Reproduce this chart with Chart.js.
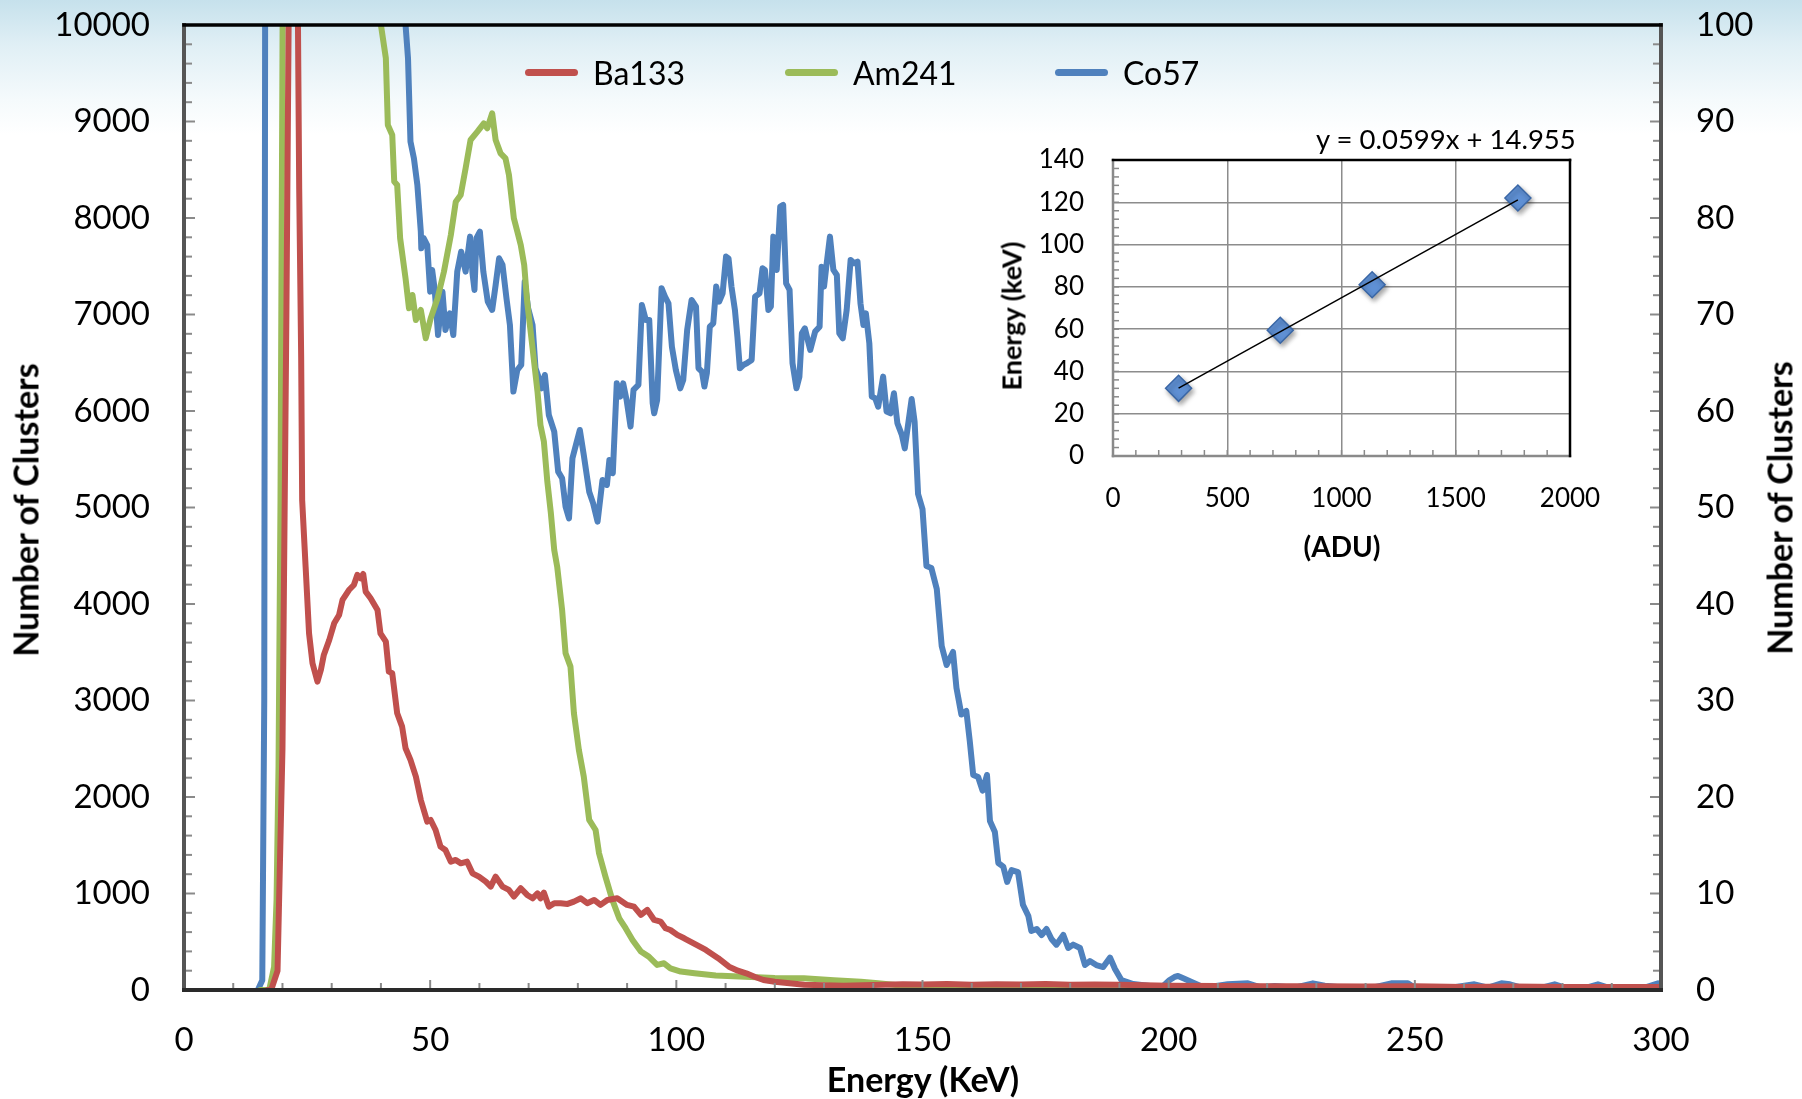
<!DOCTYPE html>
<html>
<head>
<meta charset="utf-8">
<script src="https://cdn.jsdelivr.net/npm/chart.js@4.4.0/dist/chart.umd.min.js"></script>
<style>
  html, body { margin: 0; padding: 0; }
  body {
    width: 1802px; height: 1099px; overflow: hidden; position: relative;
    background: linear-gradient(to bottom, #c6e1ec 0px, #e0eff5 45px, #f5fafc 100px, #ffffff 135px);
    font-family: Lato, sans-serif; color: #000;
  }
  canvas { position: absolute; }
  #mainChart { left: 0; top: 0; }
  #insetChart { left: 990px; top: 120px; }
  .legendItem { position: absolute; top: 54px; height: 36px; display: flex; align-items: center; font: 32px Lato; }
  .legendItem .swatch { display: inline-block; width: 53px; height: 7px; border-radius: 4px; margin-right: 15px; }
  .axisTitle { position: absolute; white-space: nowrap; font-weight: bold; transform: translate(-50%, -50%); }
  .rot { transform: translate(-50%, -50%) rotate(-90deg); }
  #equation { position: absolute; left: 1316px; top: 122px; font: 27.5px Lato; white-space: nowrap; }
</style>
</head>
<body>
<canvas id="mainChart" width="1802" height="1099"></canvas>
<canvas id="insetChart" width="620" height="450"></canvas>

<div class="legendItem" style="left:525px"><span class="swatch" style="background:#c0504d"></span>Ba133</div>
<div class="legendItem" style="left:785px"><span class="swatch" style="background:#9bbb59"></span>Am241</div>
<div class="legendItem" style="left:1055px"><span class="swatch" style="background:#4f81bd"></span>Co57</div>

<div class="axisTitle rot" style="left:25px; top:510px; font-size:34px">Number of Clusters</div>
<div class="axisTitle rot" style="left:1779px; top:508px; font-size:34px">Number of Clusters</div>
<div class="axisTitle" style="left:923px; top:1078px; font-size:34px">Energy (KeV)</div>
<div class="axisTitle rot" style="left:1011px; top:316px; font-size:27px">Energy (keV)</div>
<div class="axisTitle" style="left:1342px; top:546px; font-size:28px">(ADU)</div>
<div id="equation">y = 0.0599x + 14.955</div>

<script>
// spectra (energy in keV, clusters per bin)
let ba133Kev = [17.0, 17.7, 19.0, 20.0, 20.8, 21.4, 22.2, 23.0, 23.4, 23.8, 24.0, 24.7, 25.4, 26.1, 27.1, 27.8, 28.4, 29.5, 30.5, 31.5,
  32.2, 33.5, 34.5, 35.2, 35.9, 36.4, 36.9, 37.9, 39.3, 39.9, 41.0, 41.6, 42.3, 43.3, 44.3, 45.0, 46.0, 47.1, 48.1, 49.4,
  50.1, 51.1, 52.1, 53.1, 54.2, 55.2, 56.2, 57.5, 58.6, 59.9, 61.3, 62.3, 63.3, 64.7, 66.0, 67.0, 68.4, 69.7, 70.8, 71.8,
  72.4, 73.1, 74.1, 75.2, 76.5, 77.9, 79.2, 80.6, 81.9, 83.3, 84.6, 86.0, 88.0, 90.0, 91.4, 92.8, 94.1, 95.5, 96.8, 97.8,
  98.8, 100.2, 101.6, 104, 106, 108.5, 110.7, 112.5, 114.2, 116, 117.7, 120, 123, 126, 130, 134, 138, 142, 146, 150,
  155, 160, 165, 170, 175, 180, 185, 190, 195, 200, 210, 220, 230, 240, 250, 260, 270, 280, 290, 300];
let ba133Counts = [0, 0, 200, 2500, 7000, 11000, 30000, 11000, 8300, 6550, 5078, 4387, 3696, 3386, 3196, 3316, 3472, 3627, 3800, 3886,
  4042, 4145, 4197, 4301, 4266, 4311, 4128, 4059, 3938, 3696, 3610, 3299, 3282, 2867, 2729, 2505, 2384, 2211, 1969, 1745,
  1762, 1658, 1486, 1451, 1330, 1348, 1313, 1330, 1209, 1175, 1123, 1071, 1175, 1071, 1037, 968, 1054, 985, 950, 1002,
  950, 1009, 864, 899, 899, 892, 916, 950, 899, 933, 882, 933, 950, 882, 864, 778, 830, 726, 709, 640,
  622, 571, 536, 470, 415, 330, 242, 200, 173, 135, 104, 85, 70, 55, 48, 45, 50, 55, 60, 58,
  62, 55, 60, 58, 62, 55, 58, 55, 50, 45, 42, 38, 40, 35, 38, 32, 35, 30, 32, 30];

let am241Kev = [15.5, 17.3, 18.3, 18.8, 19.2, 19.6, 20.2, 21.5, 38.5, 40.0, 41.0, 41.4, 42.3, 42.7, 43.3, 43.9, 45.0, 45.7, 46.4, 47.1,
  48.1, 49.1, 50.1, 51.5, 52.8, 54.2, 55.2, 56.2, 57.2, 58.2, 59.6, 60.9, 61.6, 62.6, 63.3, 64.3, 65.3, 66.0, 67.0, 67.7,
  68.4, 69.1, 69.7, 70.8, 71.8, 72.4, 73.1, 73.8, 74.5, 75.2, 75.8, 76.8, 77.5, 78.5, 79.2, 80.2, 81.2, 82.3, 83.6, 84.3,
  85.6, 87.0, 88.4, 89.7, 91.1, 92.8, 94.4, 96.1, 97.5, 98.8, 100.9, 103.7, 108, 114, 120, 125.9, 132, 137.5, 141, 144.5,
  150, 155, 160, 165, 170, 180, 190, 200, 203, 206, 210, 220, 230, 240, 245, 248, 252, 260, 270, 280, 290, 300];
let am241Counts = [0, 0, 240, 933, 2315, 5078, 12000, 40000, 11000, 10000, 9655, 8964, 8860, 8377, 8342, 7790, 7375, 7064, 7202, 6943,
  7047, 6753, 6960, 7168, 7444, 7824, 8169, 8238, 8515, 8808, 8895, 8981, 8929, 9085, 8808, 8670, 8618, 8446, 7997, 7859,
  7720, 7513, 7133, 6650, 6201, 5855, 5682, 5268, 4950, 4560, 4387, 3938, 3489, 3351, 2868, 2488, 2211, 1762, 1658, 1417,
  1175, 934, 743, 640, 519, 398, 346, 260, 277, 225, 191, 173, 150, 138, 125, 121, 100, 86, 70, 52,
  35, 25, 18, 12, 10, 8, 6, 20, 30, 25, 8, 5, 8, 5, 25, 25, 5, 3, 10, 5, 3, 3];

let co57Kev = [15.0, 15.9, 16.3, 16.6, 17.2, 44.0, 45.0, 45.5, 46.0, 46.7, 47.4, 48.1, 48.2, 48.7, 49.4, 50.0, 50.4, 50.9, 51.6, 52.5,
  53.1, 54.0, 54.7, 55.5, 56.3, 57.2, 58.1, 58.6, 59.0, 59.4, 60.1, 60.8, 61.7, 62.6, 63.3, 64.0, 64.7, 65.5, 66.2, 66.9,
  67.7, 68.5, 69.2, 69.9, 70.8, 71.4, 72.1, 72.6, 73.3, 74.1, 75.2, 76.0, 76.8, 77.5, 78.2, 78.9, 79.6, 80.4, 81.2, 82.3,
  83.1, 84.0, 85.0, 85.9, 86.4, 87.1, 87.9, 88.6, 89.2, 89.9, 90.7, 91.3, 92.3, 93.0, 93.8, 94.5, 95.2, 95.5, 96.1, 97.0,
  97.7, 98.4, 99.1, 99.9, 100.8, 101.4, 102.2, 103.1, 104.0, 104.5, 105.2, 105.7, 106.2, 106.8, 107.5, 108.1, 108.7, 109.4, 110.1, 110.6,
  111.2, 111.9, 112.4, 112.9, 113.6, 114.3, 115.3, 116.0, 116.9, 117.5, 118.0, 118.7, 119.2, 119.7, 120.4, 121.1, 121.7, 122.3, 123.0, 123.6,
  124.4, 125.0, 125.5, 126.1, 127.2, 128.2, 129.1, 129.5, 130.0, 130.5, 131.2, 131.9, 132.6, 133.1, 133.8, 134.6, 135.4, 136.1, 136.8, 137.4,
  138.0, 138.5, 139.2, 139.7, 140.4, 141.0, 142.0, 142.7, 143.5, 144.2, 144.9, 145.8, 146.4, 147.8, 148.4, 149.1, 150.0, 150.8, 151.8, 152.9,
  153.9, 154.9, 156.2, 156.9, 157.9, 158.9, 159.6, 160.3, 161.3, 162.2, 163.1, 163.7, 164.7, 165.4, 166.4, 167.2, 168.1, 169.4, 170.4, 171.5,
  172.1, 173.2, 174.2, 175.2, 176.2, 177.2, 178.6, 179.6, 180.6, 182.0, 183.0, 184.0, 185.3, 186.7, 188.1, 189.1, 190.4, 192.8, 196.2, 198.9,
  200.2, 201.2, 201.9, 203.2, 205.0, 207.3, 212.0, 216.1, 218.8, 221.5, 225.6, 229.3, 231.7, 235.7, 240.5, 245.2, 248.6, 250.0, 256.0, 262.1,
  264.9, 267.6, 269.3, 271.6, 275.0, 278.4, 281.1, 283.8, 287.2, 289.9, 293.3, 296.7, 299.4, 300];
let co57Counts = [0, 100, 3000, 15000, 40000, 11800, 10000, 9655, 8791, 8618, 8342, 7859, 7686, 7790, 7720, 7237, 7461, 7271, 6788, 7237,
  6840, 7012, 6788, 7444, 7651, 7444, 7807, 7427, 7254, 7790, 7858, 7444, 7133, 7047, 7306, 7582, 7513, 7168, 6891, 6201,
  6425, 6477, 7340, 7064, 6891, 6442, 6339, 6235, 6373, 5959, 5786, 5372, 5303, 5009, 4888, 5510, 5648, 5803, 5544, 5164,
  5043, 4854, 5285, 5234, 5493, 5355, 6287, 6149, 6287, 6114, 5838, 6218, 6270, 7099, 6943, 6943, 6080, 5976, 6114, 7272,
  7185, 7116, 6667, 6425, 6235, 6322, 6840, 7151, 7082, 6443, 6408, 6253, 6391, 6874, 6909, 7289, 7133, 7220, 7600, 7582,
  7289, 7047, 6771, 6443, 6477, 6494, 6529, 7185, 7220, 7479, 7462, 7047, 7082, 7807, 7462, 8118, 8135, 7323, 7254, 6494,
  6235, 6356, 6805, 6857, 6633, 6823, 6874, 7496, 7289, 7513, 7807, 7462, 7410, 6805, 6754, 7047, 7565, 7531, 7548, 7116,
  6891, 7012, 6702, 6149, 6132, 6045, 6356, 5994, 5976, 6184, 5873, 5752, 5612, 6124, 5888, 5140, 4984, 4394, 4373, 4155,
  3565, 3368, 3503, 3130, 2854, 2891, 2580, 2228, 2207, 2066, 2228, 1751, 1637, 1316, 1279, 1120, 1243, 1222, 884, 767,
  611, 632, 570, 632, 528, 470, 570, 435, 470, 435, 259, 300, 259, 238, 336, 218, 104, 62, 41, 41,
  104, 135, 145, 117, 76, 24, 59, 69, 24, 41, 24, 69, 45, 24, 14, 69, 69, 24, 14, 59,
  24, 69, 59, 24, 14, 59, 14, 10, 59, 14, 10, 24, 69, 60];

// calibration inset: peak position (ADU) vs line energy (keV)
let calAdu = [287, 732, 1134, 1772];
let calKev = [32, 59.5, 81, 122];
let fitAdu = [287, 1772];
let fitKev = [32.1, 121.1];

const toPoints = (xs, ys) => xs.map((x, i) => ({x: x, y: ys[i]}));
const tickFont = {family: 'Lato', size: 33};
const plainNumber = (v) => String(v);

function strokeLine(ctx, x1, y1, x2, y2) {
    ctx.beginPath();
    ctx.moveTo(x1, y1);
    ctx.lineTo(x2, y2);
    ctx.stroke();
}

// fixes an axis box to a size and drops the label overhang chart.js would add
function fixBox(w, h) {
    return function(s) {
        if (w !== null) s.width = w;
        if (h !== null) s.height = h;
        s.paddingTop = 0;
        s.paddingBottom = 0;
        s.paddingLeft = 0;
        s.paddingRight = 0;
    };
}

// inward tick marks and the heavy frame round the plot
const mainFrame = {
    id: 'mainFrame',
    afterDatasetsDraw(chart) {
        let ctx = chart.ctx;
        let a = chart.chartArea;
        let sx = chart.scales.x, sy = chart.scales.y, sy2 = chart.scales.y2;
        ctx.save();
        ctx.strokeStyle = '#8a8a8a';
        ctx.lineWidth = 2;
        for (let v = 0; v <= 10000; v += 200) {
            let py = sy.getPixelForValue(v);
            strokeLine(ctx, a.left, py, a.left + (v % 1000 === 0 ? 11 : 8), py);
        }
        for (let v = 0; v <= 100; v += 2) {
            let py = sy2.getPixelForValue(v);
            strokeLine(ctx, a.right, py, a.right - (v % 10 === 0 ? 11 : 8), py);
        }
        for (let v = 0; v <= 300; v += 10) {
            let px = sx.getPixelForValue(v);
            strokeLine(ctx, px, a.bottom, px, a.bottom - (v % 50 === 0 ? 10 : 7));
        }
        ctx.lineCap = 'square';
        ctx.lineWidth = 4;
        ctx.strokeStyle = '#555';
        strokeLine(ctx, a.left, a.top, a.left, a.bottom);
        strokeLine(ctx, a.right, a.top, a.right, a.bottom);
        ctx.strokeStyle = '#000';
        ctx.lineWidth = 3.5;
        strokeLine(ctx, a.left, a.top, a.right, a.top);
        ctx.strokeStyle = '#2a2a2a';
        ctx.lineWidth = 4;
        strokeLine(ctx, a.left, a.bottom, a.right, a.bottom);
        ctx.restore();
    }
};

function spectrum(label, xs, ys, color) {
    return {
        label: label,
        data: toPoints(xs, ys),
        borderColor: color,
        backgroundColor: color,
        borderWidth: 6,
        borderJoinStyle: 'round',
        borderCapStyle: 'round',
        pointRadius: 0,
        tension: 0,
        yAxisID: 'y'
    };
}

new Chart(document.getElementById('mainChart'), {
    type: 'line',
    data: {
        datasets: [
            spectrum('Ba133', ba133Kev, ba133Counts, '#c0504d'),
            spectrum('Am241', am241Kev, am241Counts, '#9bbb59'),
            spectrum('Co57', co57Kev, co57Counts, '#4f81bd')
        ]
    },
    options: {
        responsive: false,
        animation: false,
        layout: {padding: {top: 25, left: 0, right: 0, bottom: 0}},
        plugins: {legend: {display: false}, tooltip: {enabled: false}},
        scales: {
            x: {
                type: 'linear', min: 0, max: 300,
                ticks: {stepSize: 50, padding: 31, font: tickFont, color: '#000', maxRotation: 0, callback: plainNumber},
                grid: {display: false, drawTicks: false},
                border: {display: false},
                afterFit: fixBox(null, 109)
            },
            y: {
                position: 'left', min: 0, max: 10000,
                ticks: {stepSize: 1000, padding: 34, font: tickFont, color: '#000', callback: plainNumber},
                grid: {display: false, drawTicks: false},
                border: {display: false},
                afterFit: fixBox(184, null)
            },
            y2: {
                position: 'right', min: 0, max: 100,
                ticks: {stepSize: 10, padding: 35, font: tickFont, color: '#000', callback: plainNumber},
                grid: {display: false, drawTicks: false},
                border: {display: false},
                afterFit: fixBox(141, null)
            }
        }
    },
    plugins: [mainFrame]
});

const insetFrame = {
    id: 'insetFrame',
    beforeDatasetDraw(chart, args) {
        if (args.index === 1) {
            chart.ctx.save();
            chart.ctx.shadowColor = 'rgba(0,0,0,0.35)';
            chart.ctx.shadowBlur = 5;
            chart.ctx.shadowOffsetX = 2;
            chart.ctx.shadowOffsetY = 3;
        }
    },
    afterDatasetDraw(chart, args) {
        if (args.index === 1) chart.ctx.restore();
    },
    beforeDatasetsDraw(chart) {
        let ctx = chart.ctx;
        let a = chart.chartArea;
        let sx = chart.scales.x, sy = chart.scales.y;
        ctx.save();
        ctx.strokeStyle = '#8a8a8a';
        ctx.lineWidth = 1.5;
        for (let v = 0; v <= 140; v += 4) {
            let py = sy.getPixelForValue(v);
            strokeLine(ctx, a.left, py, a.left + 6, py);
        }
        for (let v = 0; v <= 2000; v += 100) {
            let px = sx.getPixelForValue(v);
            strokeLine(ctx, px, a.bottom, px, a.bottom - 6);
        }
        ctx.lineCap = 'square';
        ctx.lineWidth = 2.5;
        strokeLine(ctx, a.left, a.top, a.left, a.bottom);
        strokeLine(ctx, a.left, a.bottom, a.right, a.bottom);
        ctx.strokeStyle = '#000';
        strokeLine(ctx, a.left, a.top, a.right, a.top);
        strokeLine(ctx, a.right, a.top, a.right, a.bottom);
        ctx.restore();
    }
};

const insetFont = {family: 'Lato', size: 26};

new Chart(document.getElementById('insetChart'), {
    type: 'scatter',
    data: {
        datasets: [
            {
                type: 'line',
                data: toPoints(fitAdu, fitKev),
                borderColor: '#000',
                borderWidth: 1.5,
                pointRadius: 0
            },
            {
                data: toPoints(calAdu, calKev),
                pointStyle: 'rectRot',
                pointRadius: 13,
                backgroundColor: '#5f90d4',
                borderColor: '#3a67a6',
                borderWidth: 1.5
            }
        ]
    },
    options: {
        responsive: false,
        animation: false,
        layout: {padding: {top: 40, right: 40, left: 0, bottom: 0}},
        plugins: {legend: {display: false}, tooltip: {enabled: false}},
        scales: {
            x: {
                type: 'linear', min: 0, max: 2000,
                ticks: {stepSize: 500, padding: 27, font: insetFont, color: '#000', maxRotation: 0, callback: plainNumber},
                grid: {color: '#8c8c8c', lineWidth: 1.5, drawTicks: false},
                border: {display: false},
                afterFit: fixBox(null, 114)
            },
            y: {
                min: 0, max: 140,
                ticks: {stepSize: 20, padding: 29, font: insetFont, color: '#000', callback: plainNumber},
                grid: {color: '#8c8c8c', lineWidth: 1.5, drawTicks: false},
                border: {display: false},
                afterFit: fixBox(123, null)
            }
        }
    },
    plugins: [insetFrame]
});
</script>
</body>
</html>
